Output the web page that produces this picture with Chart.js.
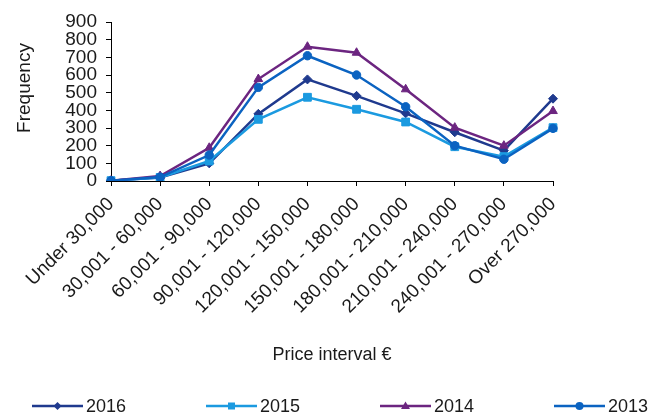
<!DOCTYPE html>
<html>
<head>
<meta charset="utf-8">
<script src="https://cdn.jsdelivr.net/npm/chart.js@4/dist/chart.umd.min.js"></script>
<style>
  html, body { margin: 0; padding: 0; background: #ffffff; }
  #wrap { width: 670px; height: 414px; }
</style>
</head>
<body>
<div id="wrap"><canvas id="chart" width="670" height="414"></canvas></div>
<script>
// Price bands on the category axis
const categories = [
  'Under 30,000', '30,001 - 60,000', '60,001 - 90,000', '90,001 - 120,000',
  '120,001 - 150,000', '150,001 - 180,000', '180,001 - 210,000',
  '210,001 - 240,000', '240,001 - 270,000', 'Over 270,000'
];

// Number of sales per price band, by year
const freq2016 = [2, 20, 100, 380, 575, 482, 383, 276, 172, 466];
const freq2015 = [2, 20, 113, 349, 474, 406, 334, 194, 138, 302];
const freq2014 = [2, 28, 188, 577, 760, 726, 519, 302, 200, 396];
const freq2013 = [2, 22, 147, 530, 709, 600, 420, 200, 123, 298];

const yTicks = [0, 100, 200, 300, 400, 500, 600, 700, 800, 900];

const FONT = 'Arial, "Liberation Sans", Helvetica, sans-serif';
const TEXT = '#1a1a1a';

function series(label, data, color, style, radius, order) {
  return {
    label, data, order,
    borderColor: color,
    backgroundColor: color,
    borderWidth: 2.5,
    pointStyle: style,
    pointRadius: radius,
    pointHoverRadius: radius,
    pointBorderWidth: 1,
    pointBorderColor: color,
    pointBackgroundColor: color,
    tension: 0,
    fill: false
  };
}

const datasets = [
  series('2016', freq2016, '#1f3a8e', 'rectRot', 4.5, 4),
  series('2015', freq2015, '#1b9ae0', 'rect', 5.5, 3),
  series('2014', freq2014, '#6c2580', 'triangle', 5, 2),
  series('2013', freq2013, '#0b63c1', 'circle', 4.2, 1)
];

// Vertical axis caption plus the legend row under the plot
const captions = {
  id: 'captions',
  afterDraw(chart) {
    const ctx = chart.ctx;
    ctx.save();
    ctx.font = '18px ' + FONT;
    ctx.fillStyle = TEXT;

    // "Frequency" on the left, reading bottom to top
    ctx.save();
    ctx.translate(25, 88);
    ctx.rotate(-Math.PI / 2);
    ctx.textAlign = 'center';
    ctx.textBaseline = 'middle';
    ctx.font = '19px ' + FONT;
    ctx.fillText('Frequency', 0, 0);
    ctx.restore();

    const y = 406;
    const startX = 32;
    const step = 174;
    const lineLen = 51;
    ctx.textBaseline = 'middle';
    ctx.textAlign = 'left';
    chart.data.datasets.forEach((ds, i) => {
      const x0 = startX + i * step;
      ctx.strokeStyle = ds.borderColor;
      ctx.lineWidth = 2.5;
      ctx.beginPath();
      ctx.moveTo(x0, y);
      ctx.lineTo(x0 + lineLen, y);
      ctx.stroke();
      ctx.fillStyle = ds.borderColor;
      const cx = x0 + lineLen / 2;
      const r = 4;
      ctx.beginPath();
      if (ds.pointStyle === 'rectRot') {
        ctx.moveTo(cx, y - r); ctx.lineTo(cx + r, y); ctx.lineTo(cx, y + r); ctx.lineTo(cx - r, y);
        ctx.closePath();
      } else if (ds.pointStyle === 'rect') {
        ctx.rect(cx - 3.5, y - 3.5, 7, 7);
      } else if (ds.pointStyle === 'triangle') {
        ctx.moveTo(cx, y - 4.5); ctx.lineTo(cx + 4.5, y + 3); ctx.lineTo(cx - 4.5, y + 3);
        ctx.closePath();
      } else {
        ctx.arc(cx, y, 4, 0, Math.PI * 2);
      }
      ctx.fill();
      ctx.fillStyle = TEXT;
      ctx.fillText(ds.label, x0 + lineLen + 3, y + 1);
    });
    ctx.restore();
  }
};

new Chart(document.getElementById('chart'), {
  type: 'line',
  data: { labels: categories, datasets },
  options: {
    responsive: false,
    animation: false,
    devicePixelRatio: 1,
    layout: { padding: { top: 22, right: 117, bottom: 38, left: 10 } },
    plugins: {
      legend: { display: false },
      tooltip: { enabled: false }
    },
    scales: {
      x: {
        type: 'category',
        offset: false,
        afterFit(scale) { scale.height = 195; },
        grid: { display: true, drawOnChartArea: false, drawTicks: true, tickLength: 5, color: '#000000', lineWidth: 1 },
        border: { display: true, color: '#000000', width: 1 },
        ticks: {
          autoSkip: false,
          minRotation: 45,
          maxRotation: 45,
          padding: 7,
          color: TEXT,
          font: { family: FONT, size: 19 }
        },
        title: {
          display: true,
          text: 'Price interval €',
          color: TEXT,
          font: { family: FONT, size: 18 },
          padding: { top: 13, bottom: 10 }
        }
      },
      y: {
        min: 0,
        max: 900,
        afterFit(scale) { scale.width = 101; },
        afterBuildTicks(scale) { scale.ticks = yTicks.map(v => ({ value: v })); },
        grid: { display: true, drawOnChartArea: false, drawTicks: true, tickLength: 5, color: '#000000', lineWidth: 1 },
        border: { display: true, color: '#000000', width: 1 },
        ticks: {
          autoSkip: false,
          padding: 9,
          color: TEXT,
          font: { family: FONT, size: 19 }
        }
      }
    }
  },
  plugins: [captions]
});
</script>
</body>
</html>
